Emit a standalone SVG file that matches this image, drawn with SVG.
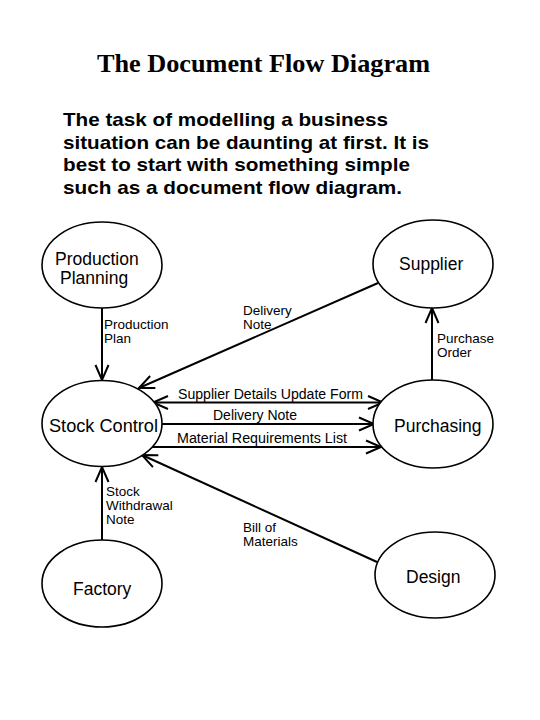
<svg xmlns="http://www.w3.org/2000/svg" width="540" height="720" viewBox="0 0 540 720">
<defs>
<marker id="arr" markerUnits="userSpaceOnUse" markerWidth="20" markerHeight="20" refX="0" refY="0" viewBox="-16 -10 20 20" orient="auto-start-reverse">
<path d="M-15,-6.5 L0,0 L-15,6.5" fill="none" stroke="#000" stroke-width="2"/>
</marker>
<style>
.node ellipse{fill:#fff;stroke:#000;stroke-width:1.6}
.nl{font-family:"Liberation Sans",Arial,sans-serif;font-size:17.5px;fill:#000}
.el{font-family:"Liberation Sans",Arial,sans-serif;font-size:14px;fill:#000}
.ml{font-family:"Liberation Sans",Arial,sans-serif;font-size:13.5px;fill:#000}
.c line{stroke:#000;stroke-width:2;fill:none}
.title{font-family:"Liberation Serif","Times New Roman",serif;font-size:26px;font-weight:bold;fill:#000}
.para{font-family:"Liberation Sans",Arial,sans-serif;font-size:19px;font-weight:bold;fill:#000}
</style>
</defs>
<rect width="540" height="720" fill="#fff"/>
<text class="title" x="97" y="72" textLength="333" lengthAdjust="spacingAndGlyphs">The Document Flow Diagram</text>
<g id="intro">
<text class="para" x="63" y="126" textLength="325" lengthAdjust="spacingAndGlyphs">The task of modelling a business</text>
<text class="para" x="63" y="148.5" textLength="366" lengthAdjust="spacingAndGlyphs">situation can be daunting at first. It is</text>
<text class="para" x="63" y="171" textLength="347" lengthAdjust="spacingAndGlyphs">best to start with something simple</text>
<text class="para" x="63" y="193.5" textLength="339" lengthAdjust="spacingAndGlyphs">such as a document flow diagram.</text>
</g>
<g id="connectors" class="c">
<line x1="102" y1="308" x2="102" y2="380" marker-end="url(#arr)"/>
<line x1="378" y1="283" x2="139" y2="388" marker-end="url(#arr)"/>
<line x1="153" y1="402.5" x2="383" y2="402.5" marker-start="url(#arr)" marker-end="url(#arr)"/>
<line x1="161" y1="424" x2="374" y2="424" marker-end="url(#arr)"/>
<line x1="152" y1="447" x2="381" y2="447" marker-end="url(#arr)"/>
<line x1="432" y1="380" x2="432" y2="308" marker-end="url(#arr)"/>
<line x1="102" y1="540" x2="102" y2="467" marker-end="url(#arr)"/>
<line x1="377" y1="562" x2="142" y2="455" marker-end="url(#arr)"/>
</g>
<g id="edge-labels">
<text class="ml" x="104" y="329">Production</text>
<text class="ml" x="104" y="343">Plan</text>
<text class="ml" x="243" y="315">Delivery</text>
<text class="ml" x="243" y="329">Note</text>
<text class="ml" x="437" y="343">Purchase</text>
<text class="ml" x="437" y="357">Order</text>
<text class="el" x="178" y="399" textLength="185" lengthAdjust="spacingAndGlyphs">Supplier Details Update Form</text>
<text class="el" x="213" y="420">Delivery Note</text>
<text class="el" x="177" y="443" textLength="170" lengthAdjust="spacingAndGlyphs">Material Requirements List</text>
<text class="ml" x="106" y="496">Stock</text>
<text class="ml" x="106" y="510">Withdrawal</text>
<text class="ml" x="106" y="524">Note</text>
<text class="ml" x="243" y="532">Bill of</text>
<text class="ml" x="243" y="546">Materials</text>
</g>
<g id="production-planning" class="node">
<ellipse cx="102" cy="265" rx="60" ry="43"/>
<text class="nl" x="55" y="265">Production</text>
<text class="nl" x="60" y="284">Planning</text>
</g>
<g id="supplier" class="node">
<ellipse cx="433" cy="264" rx="60" ry="44"/>
<text class="nl" x="399" y="270">Supplier</text>
</g>
<g id="stock-control" class="node">
<ellipse cx="102" cy="423.5" rx="60" ry="43"/>
<text class="nl" x="49" y="432" textLength="109" lengthAdjust="spacingAndGlyphs">Stock Control</text>
</g>
<g id="purchasing" class="node">
<ellipse cx="433" cy="424" rx="60" ry="44"/>
<text class="nl" x="394" y="432">Purchasing</text>
</g>
<g id="factory" class="node">
<ellipse cx="102" cy="583.5" rx="60" ry="43.5"/>
<text class="nl" x="73" y="595">Factory</text>
</g>
<g id="design" class="node">
<ellipse cx="435" cy="575" rx="60" ry="43"/>
<text class="nl" x="406" y="583">Design</text>
</g>
</svg>
